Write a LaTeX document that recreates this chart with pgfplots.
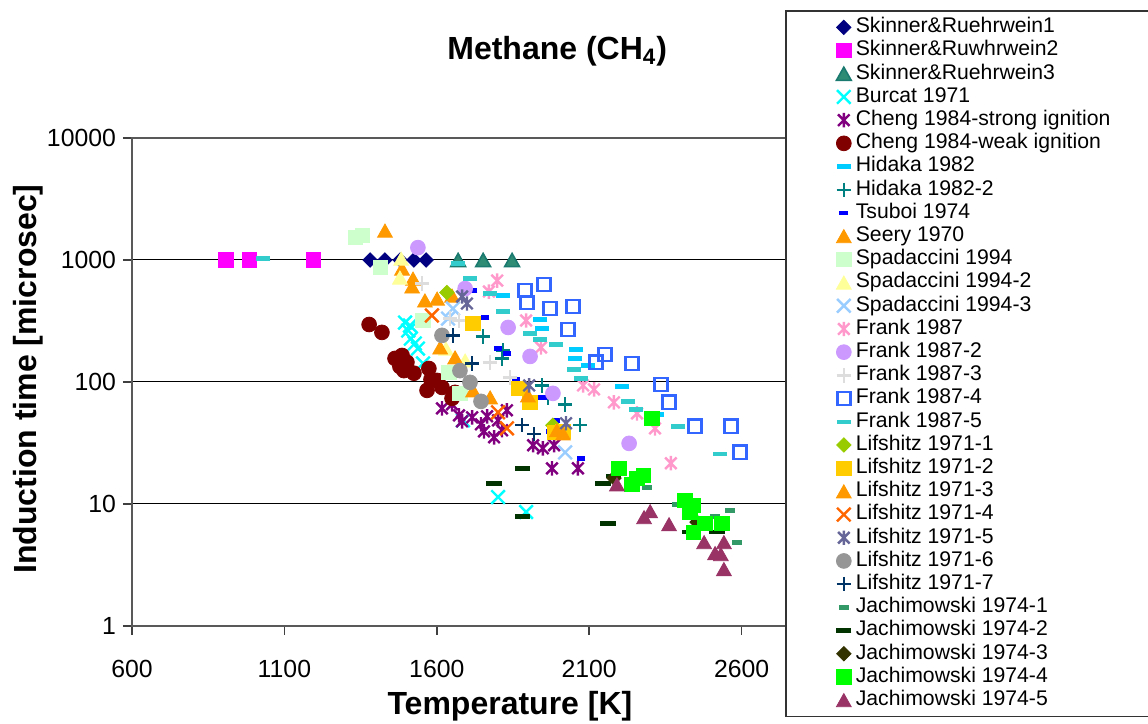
\documentclass[border=0pt]{standalone}
\usepackage{pgfplots}
\pgfplotsset{compat=1.18}
\usepackage{fontspec}
\setmainfont{Liberation Sans}

% rotated square (equal width and height)
\pgfdeclareplotmark{rhomb*}{%
  \pgfpathmoveto{\pgfqpoint{0pt}{\pgfplotmarksize}}%
  \pgfpathlineto{\pgfqpoint{\pgfplotmarksize}{0pt}}%
  \pgfpathlineto{\pgfqpoint{0pt}{-\pgfplotmarksize}}%
  \pgfpathlineto{\pgfqpoint{-\pgfplotmarksize}{0pt}}%
  \pgfpathclose\pgfusepathqfillstroke}
% triangle centred on its box
\pgfdeclareplotmark{tri*}{%
  \pgfpathmoveto{\pgfqpoint{0pt}{0.8\pgfplotmarksize}}%
  \pgfpathlineto{\pgfqpoint{0.9\pgfplotmarksize}{-0.8\pgfplotmarksize}}%
  \pgfpathlineto{\pgfqpoint{-0.9\pgfplotmarksize}{-0.8\pgfplotmarksize}}%
  \pgfpathclose\pgfusepathqfillstroke}
% cross with a vertical stroke
\pgfdeclareplotmark{xstar}{%
  \pgfpathmoveto{\pgfqpoint{0pt}{\pgfplotmarksize}}%
  \pgfpathlineto{\pgfqpoint{0pt}{-\pgfplotmarksize}}%
  \pgfpathmoveto{\pgfqpoint{-.8\pgfplotmarksize}{-.8\pgfplotmarksize}}%
  \pgfpathlineto{\pgfqpoint{.8\pgfplotmarksize}{.8\pgfplotmarksize}}%
  \pgfpathmoveto{\pgfqpoint{-.8\pgfplotmarksize}{.8\pgfplotmarksize}}%
  \pgfpathlineto{\pgfqpoint{.8\pgfplotmarksize}{-.8\pgfplotmarksize}}%
  \pgfusepathqstroke}

\definecolor{cNavy}{HTML}{000080}
\definecolor{cMag}{HTML}{FF00FF}
\definecolor{cSea}{HTML}{2E8B74}
\definecolor{cSeaD}{HTML}{1A7A70}
\definecolor{cCyan}{HTML}{00FFFF}
\definecolor{cPurp}{HTML}{800080}
\definecolor{cMaroon}{HTML}{800000}
\definecolor{cSky}{HTML}{00CCFF}
\definecolor{cTeal}{HTML}{008080}
\definecolor{cBlue}{HTML}{0000FF}
\definecolor{cOrange}{HTML}{FF9900}
\definecolor{cPaleGreen}{HTML}{CCFFCC}
\definecolor{cPaleYellow}{HTML}{FFFF99}
\definecolor{cPaleBlue}{HTML}{99CCFF}
\definecolor{cPink}{HTML}{FF99CC}
\definecolor{cLav}{HTML}{CC99FF}
\definecolor{cLGray}{HTML}{DDDDDD}
\definecolor{cRoyal}{HTML}{3366FF}
\definecolor{cTurq}{HTML}{33CCCC}
\definecolor{cLime}{HTML}{99CC00}
\definecolor{cGold}{HTML}{FFCC00}
\definecolor{cRedOr}{HTML}{FF6600}
\definecolor{cSlate}{HTML}{666699}
\definecolor{cGray}{HTML}{969696}
\definecolor{cDNavy}{HTML}{003366}
\definecolor{cSeaGr}{HTML}{339966}
\definecolor{cDGreen}{HTML}{003300}
\definecolor{cOlive}{HTML}{333300}
\definecolor{cGreen}{HTML}{00FF00}
\definecolor{cPlum}{HTML}{993366}

\pgfplotsset{
  scat/.style={only marks,
    legend image code/.code={\path[draw=none,fill=none] (-6pt,-4pt) rectangle (6pt,4pt);
      \draw[##1] plot coordinates {(0pt,0pt)};}},
  fdiam/.style={scat, mark=rhomb*, mark size=3.6pt, mark options={draw=#1, fill=#1, line width=0.4pt}},
  fsq/.style={scat, mark=square*, mark size=3.6pt, mark options={draw=#1, fill=#1, line width=0.4pt}},
  ftri/.style={scat, mark=tri*, mark size=4.1pt, mark options={draw=#1, fill=#1, line width=0.4pt}},
  fcirc/.style={scat, mark=*, mark size=3.7pt, mark options={draw=#1, fill=#1, line width=0.4pt}},
  xmk/.style={scat, mark=x, mark size=4.8pt, mark options={draw=#1, line width=1.2pt}},
  smk/.style={scat, mark=xstar, mark size=3.6pt, mark options={draw=#1, line width=1.2pt}},
  pmk/.style={scat, mark=+, mark size=3.6pt, mark options={draw=#1, line width=1.2pt}},
}

\begin{document}
\begin{tikzpicture}
\begin{axis}[
  at={(66pt,49pt)}, anchor=south west,
  scale only axis, width=381pt, height=244pt,
  xmin=600, xmax=3100, ymin=1, ymax=10000, ymode=log,
  xtick={600,1100,1600,2100,2600},
  xticklabels={600,1100,1600,2100,2600},
  ytick={1,10,100,1000,10000},
  yticklabels={1,10,100,1000,10000},
  yminorticks=false,
  tick align=outside, major tick length=4.5pt,
  xtick pos=bottom, ytick pos=left,
  tick style={draw=black!75, line width=0.8pt},
  axis line style={draw=black!65, line width=1pt},
  ymajorgrids, major grid style={draw=black, line width=0.5pt},
  tick label style={font=\fontsize{12.4}{14}\selectfont},
  xticklabel style={yshift=-9pt},
  xlabel={Temperature [K]},
  ylabel={Induction time [microsec]},
  label style={font=\fontsize{16}{19}\selectfont\bfseries},
  xlabel style={at={(axis description cs:0.496,-0.165)}, anchor=center},
  ylabel style={at={(axis description cs:-0.1365,0.506)}, anchor=center},
  title={Methane (CH\textsubscript{4})},
  title style={at={(axis description cs:0.558,1.153)}, anchor=center,
    font=\fontsize{16}{19}\selectfont\bfseries},
  legend cell align=left,
  legend style={at={(axis description cs:0.857,1.262)}, anchor=north west,
    draw=black!80, line width=0.8pt, fill=white,
    inner xsep=23pt, inner ysep=2.4pt,
    font=\fontsize{10.6}{12}\selectfont,
    nodes={inner sep=0pt, text height=8.5pt, text depth=3.1pt},
    row sep=0pt, column sep=0pt},
]

\addplot[fdiam=cNavy] coordinates {(1381,1000) (1430,1000) (1480,1000) (1525,1000) (1565,1000)};
\addlegendentry{Skinner\&Ruehrwein1}

\addplot[fsq=cMag] coordinates {(908,1000) (985,1000) (1195,1000)};
\addlegendentry{Skinner\&Ruwhrwein2}

\addplot[scat, mark=tri*, mark size=4.1pt, mark options={draw=cSeaD, fill=cSea, line width=0.8pt}]
  coordinates {(1670,1000) (1752,1000) (1847,1000)};
\addlegendentry{Skinner\&Ruehrwein3}

\addplot[xmk=cCyan] coordinates {(1496,307) (1512,290) (1506,264) (1515,227) (1528,207)
  (1538,188) (1555,142) (1686,48.5) (1801,11.4) (1893,8.6)};
\addlegendentry{Burcat 1971}

\addplot[smk=cPurp] coordinates {(1617,60.8) (1650,65.6) (1673,53.3) (1683,47.6) (1716,51.3)
  (1745,45) (1755,39.4) (1788,35.2) (1801,48.5) (1830,58.6) (1814,40.2) (1765,52.3)
  (1916,30.3) (1948,28.6) (1985,30.3) (1978,19.6) (2063,19.6)};
\addlegendentry{Cheng 1984-strong ignition\rule{20pt}{0pt}}

\addplot[fcirc=cMaroon] coordinates {(1378,296) (1420,255) (1463,156) (1486,165) (1502,145)
  (1479,134) (1525,118) (1492,124) (1574,129) (1581,105) (1568,85.4) (1617,90.3)
  (1660,82.2) (1650,73.5) (1601,103)};
\addlegendentry{Cheng 1984-weak ignition}

\addplot[scat, mark=-, mark size=3.6pt, mark options={draw=cSky, line width=2.2pt}]
  coordinates {(1817,511) (1939,325) (1945,275) (2057,185) (2053,156) (2096,137)
  (2208,92) (2322,54.3)};
\addlegendentry{Hidaka 1982}

\addplot[pmk=cTeal] coordinates {(1752,236) (1817,181) (1814,156) (1945,93.8) (1965,74.8)
  (2021,65.6) (2070,44.2)};
\addlegendentry{Hidaka 1982-2}

\addplot[scat, mark=-, mark size=2.2pt, mark options={draw=cBlue, line width=2.3pt}]
  coordinates {(1719,562) (1758,338) (1801,188) (1830,171) (1860,105) (1948,74.8)
  (1991,48.5) (1972,39.4) (2073,23.7)};
\addlegendentry{Tsuboi 1974}

\addplot[ftri=cOrange] coordinates {(1430,1741) (1486,851) (1522,704) (1519,606) (1561,466)
  (1601,483) (1650,511)};
\addlegendentry{Seery 1970}

\addplot[fsq=cPaleGreen] coordinates {(1332,1525) (1355,1585) (1414,867) (1555,319)
  (1640,120) (1676,80.7)};
\addlegendentry{Spadaccini 1994}

\addplot[ftri=cPaleYellow] coordinates {(1483,1026) (1479,718) (1630,188) (1693,150)};
\addlegendentry{Spadaccini 1994-2}

\addplot[xmk=cPaleBlue] coordinates {(1653,400) (1637,331) (2021,26.5)};
\addlegendentry{Spadaccini 1994-3}

\addplot[smk=cPink] coordinates {(1798,678) (1771,551) (1893,319) (1942,192) (2080,93.8)
  (2116,87) (2181,68.1) (2257,55.3) (2316,41.7) (2368,21.6)};
\addlegendentry{Frank 1987}

\addplot[fcirc=cLav] coordinates {(1538,1263) (1693,583) (1834,280) (1906,162) (1981,80.7)
  (2231,31.4)};
\addlegendentry{Frank 1987-2}

\addplot[pmk=cLGray] coordinates {(1551,641) (1643,331) (1673,319) (1775,145) (1840,109)};
\addlegendentry{Frank 1987-3}

\addplot[scat, mark=square, mark size=3.3pt, mark options={draw=cRoyal, line width=1.3pt}]
  coordinates {(1889,562) (1952,629) (1896,448) (1972,400) (2047,415) (2031,269)
  (2122,145) (2152,168) (2240,142) (2336,95.5) (2362,68.1) (2447,43.3) (2565,43.3)
  (2595,26.5)};
\addlegendentry{Frank 1987-4}

\addplot[scat, mark=-, mark size=3.6pt, mark options={draw=cTurq, line width=2.2pt}]
  coordinates {(1030,1025) (1670,933) (1709,704) (1775,531) (1817,378) (1906,250)
  (1939,223) (1991,203) (2050,127) (2073,107) (2227,69.4) (2254,59.7) (2391,43.3)
  (2529,25.6)};
\addlegendentry{Frank 1987-5}

\addplot[fdiam=cLime] coordinates {(1633,541) (1981,44.2)};
\addlegendentry{Lifshitz 1971-1}

\addplot[fsq=cGold] coordinates {(1719,302) (1870,88.7) (1906,68.1) (2014,39.4) (1988,38.7)};
\addlegendentry{Lifshitz 1971-2}

\addplot[ftri=cOrange] coordinates {(1611,192) (1660,159) (1719,85.4) (1775,74.8)
  (1899,77.7) (1994,40.2) (2014,37.9)};
\addlegendentry{Lifshitz 1971-3}

\addplot[xmk=cRedOr] coordinates {(1584,351) (1801,56.4) (1830,41.7)};
\addlegendentry{Lifshitz 1971-4}

\addplot[smk=cSlate] coordinates {(1683,502) (1699,440) (1903,93.8) (2024,45.9)};
\addlegendentry{Lifshitz 1971-5}

\addplot[fcirc=cGray] coordinates {(1617,241) (1676,124) (1709,99.3) (1745,69.4)};
\addlegendentry{Lifshitz 1971-6}

\addplot[pmk=cDNavy] coordinates {(1653,241) (1716,142) (1880,44.2) (1919,37.3)};
\addlegendentry{Lifshitz 1971-7}

\addplot[scat, mark=-, mark size=2.4pt, mark options={draw=cSeaGr, line width=2.4pt}]
  coordinates {(2290,13.7) (2388,9.96) (2513,7.94) (2562,8.9) (2585,4.87)};
\addlegendentry{Jachimowski 1974-1}

\addplot[scat, mark=-, mark size=3.8pt, mark options={draw=cDGreen, line width=2.3pt}]
  coordinates {(1788,14.8) (1880,19.6) (1880,7.94) (2145,14.8) (2162,6.96) (2181,16.9)
  (2431,5.88) (2519,5.88)};
\addlegendentry{Jachimowski 1974-2}

\addplot[fdiam=cOlive] coordinates {(2181,16.3) (2454,7.1)};
\addlegendentry{Jachimowski 1974-3}

\addplot[fsq=cGreen] coordinates {(2198,19.6) (2257,16.3) (2277,17.2) (2240,14.5)
  (2306,50.4) (2414,10.7) (2441,9.78) (2431,8.57) (2441,5.88) (2480,6.96) (2536,6.96)};
\addlegendentry{Jachimowski 1974-4}

\addplot[ftri=cPlum] coordinates {(2191,14.5) (2280,7.8) (2300,8.73) (2362,6.83)
  (2477,4.87) (2542,4.87) (2513,3.96) (2532,3.88) (2542,2.93)};
\addlegendentry{Jachimowski 1974-5}

\end{axis}
% the legend frame runs on past the right edge of the page
\fill[white] (566pt,8pt) rectangle (575pt,355pt);
\pgfresetboundingbox
\useasboundingbox (0,0) rectangle (574pt,362pt);
\end{tikzpicture}
\end{document}
